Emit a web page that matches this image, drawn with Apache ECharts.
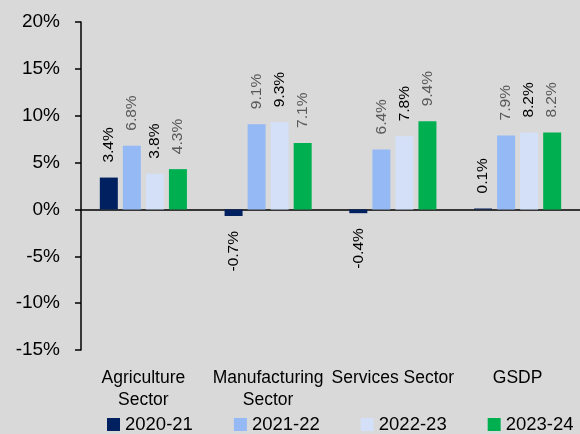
<!DOCTYPE html>
<html>
<head>
<meta charset="utf-8">
<script src="https://cdn.jsdelivr.net/npm/echarts@6/dist/echarts.min.js"></script>
<style>
  html, body { margin: 0; padding: 0; background: #d9d9d9; }
  #chart { width: 580px; height: 434px; }
</style>
</head>
<body>
<div id="chart"></div>
<script>
// sectors and yearly growth (%)
const categories = ['Agriculture\nSector', 'Manufacturing\nSector', 'Services Sector', 'GSDP'];
const years = ['2020-21', '2021-22', '2022-23', '2023-24'];
const growth2021 = [3.4, -0.7, -0.4, 0.1];
const growth2122 = [6.8, 9.1, 6.4, 7.9];
const growth2223 = [3.8, 9.3, 7.8, 8.2];
const growth2324 = [4.3, 7.1, 9.4, 8.2];
const yTicks = [-15, -10, -5, 0, 5, 10, 15, 20];

const FONT = '"Liberation Sans", Arial, sans-serif';
const colors = ['#002060', '#95b9f5', '#d3e0f8', '#00b050'];
const labelColors = ['#000000', '#595959', '#000000', '#595959'];

function makeSeries(name, values, idx) {
  return {
    name: name,
    type: 'bar',
    barWidth: 18,
    barGap: '28%',
    itemStyle: { color: colors[idx] },
    label: {
      show: true,
      position: 'top',
      rotate: 90,
      align: 'left',
      verticalAlign: 'middle',
      distance: 15,
      fontFamily: FONT,
      fontSize: 15.5,
      color: labelColors[idx],
      formatter: p => p.value.toFixed(1) + '%'
    },
    data: values.map(v => v < 0 ? {
      value: v,
      label: { position: 'bottom', align: 'right' }
    } : v),
    emphasis: { disabled: true }
  };
}

const chart = echarts.init(document.getElementById('chart'));
chart.setOption({
  backgroundColor: '#d9d9d9',
  animation: false,
  textStyle: { fontFamily: FONT },
  grid: { left: 81, right: -9, top: 22, bottom: 84 },
  legend: {
    data: years,
    left: 107,
    top: 415,
    width: 473,
    padding: 0,
    icon: 'rect',
    itemWidth: 13,
    itemHeight: 13,
    itemGap: 41,
    textStyle: { fontFamily: FONT, fontSize: 18.5, color: '#000' }
  },
  xAxis: [{
    type: 'category',
    data: categories,
    axisLine: { show: false, onZero: false },
    axisTick: { show: false },
    axisLabel: {
      interval: 0,
      margin: 17,
      fontFamily: FONT,
      fontSize: 17.5,
      lineHeight: 22,
      color: '#000'
    }
  }, {
    type: 'category',
    data: categories,
    position: 'bottom',
    axisLine: { show: true, onZero: true, lineStyle: { color: '#000', width: 1.5 } },
    axisTick: { show: false },
    axisLabel: { show: false }
  }],
  yAxis: {
    type: 'value',
    min: yTicks[0],
    max: yTicks[yTicks.length - 1],
    interval: 5,
    splitLine: { show: false },
    axisLine: { show: true, lineStyle: { color: '#000', width: 1.5 } },
    axisTick: { show: true, length: 6, lineStyle: { color: '#000', width: 1.5 } },
    axisLabel: {
      margin: 21,
      fontFamily: FONT,
      fontSize: 19,
      color: '#000',
      formatter: v => v + '%'
    }
  },
  series: [
    makeSeries(years[0], growth2021, 0),
    makeSeries(years[1], growth2122, 1),
    makeSeries(years[2], growth2223, 2),
    makeSeries(years[3], growth2324, 3)
  ]
});
</script>
</body>
</html>
